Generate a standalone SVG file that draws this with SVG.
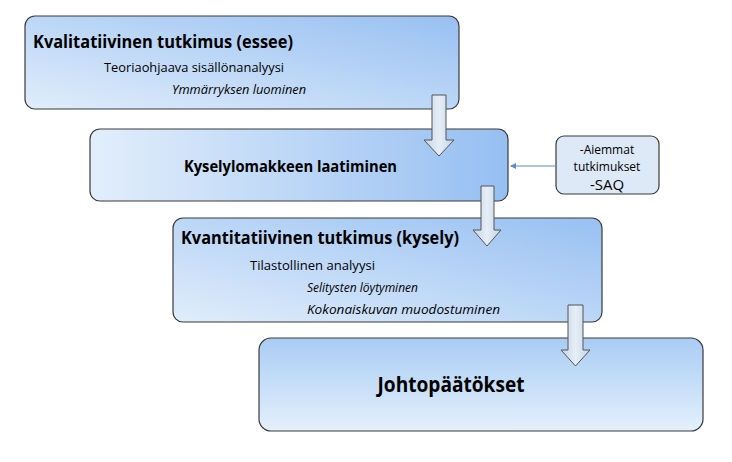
<svg xmlns="http://www.w3.org/2000/svg" width="732" height="462" viewBox="0 0 732 462">
<defs>
<linearGradient id="gd" x1="0" y1="1" x2="1" y2="0"><stop offset="0" stop-color="#e0edfb"/><stop offset="1" stop-color="#98c0f2"/></linearGradient>
<linearGradient id="gh" x1="0" y1="0" x2="1" y2="0"><stop offset="0" stop-color="#e2eefb"/><stop offset="1" stop-color="#96bff2"/></linearGradient>
<linearGradient id="gv" x1="0" y1="0" x2="0" y2="1"><stop offset="0" stop-color="#a9ccf4"/><stop offset="1" stop-color="#e4f0fc"/></linearGradient>
<linearGradient id="ga" x1="0" y1="0" x2="1" y2="0"><stop offset="0" stop-color="#c4d4e6"/><stop offset="0.5" stop-color="#e6eef7"/><stop offset="1" stop-color="#c4d4e6"/></linearGradient>
<marker id="m" markerWidth="6" markerHeight="6" refX="5" refY="3" orient="auto"><path d="M0,0 L6,3 L0,6 z" fill="#5b8fc0"/></marker>
</defs>
<style>
.b{stroke:#3a3a3a;stroke-width:1.2}
text{font-family:"Open Sans","Liberation Sans",sans-serif;fill:#000}
.t{font-weight:bold}
.i{font-style:italic}
.ar{fill:url(#ga);stroke:#555;stroke-width:1}
</style>
<rect width="732" height="462" fill="#fff"/>
<g id="n1"><rect class="b" x="25" y="16" width="434" height="93" rx="10" fill="url(#gd)"/>
<text class="t" x="33" y="48" font-size="17" textLength="260" lengthAdjust="spacingAndGlyphs">Kvalitatiivinen tutkimus (essee)</text>
<text x="104" y="72" font-size="12.5" textLength="180" lengthAdjust="spacingAndGlyphs">Teoriaohjaava sisällönanalyysi</text>
<text class="i" x="172" y="94" font-size="12" textLength="134" lengthAdjust="spacingAndGlyphs">Ymmärryksen luominen</text></g>
<g id="n2"><rect class="b" x="90" y="129" width="418" height="72" rx="10" fill="url(#gh)"/>
<text class="t" x="184" y="172" font-size="16" textLength="213" lengthAdjust="spacingAndGlyphs">Kyselylomakkeen laatiminen</text></g>
<g id="n5"><rect class="b" x="556" y="136" width="103" height="58" rx="8" fill="#dde9f7"/>
<text x="607" y="154" font-size="12" text-anchor="middle">-Aiemmat</text>
<text x="607" y="171" font-size="12" text-anchor="middle">tutkimukset</text>
<text x="607" y="190" font-size="15" text-anchor="middle">-SAQ</text></g>
<g id="n3"><rect class="b" x="173" y="218" width="429" height="104" rx="10" fill="url(#gd)"/>
<text class="t" x="181" y="244" font-size="17" textLength="278" lengthAdjust="spacingAndGlyphs">Kvantitatiivinen tutkimus (kysely)</text>
<text x="250" y="270" font-size="12.5" textLength="125" lengthAdjust="spacingAndGlyphs">Tilastollinen analyysi</text>
<text class="i" x="307" y="292" font-size="12" textLength="111" lengthAdjust="spacingAndGlyphs">Selitysten löytyminen</text>
<text class="i" x="307" y="314" font-size="12" textLength="193" lengthAdjust="spacingAndGlyphs">Kokonaiskuvan muodostuminen</text></g>
<g id="n4"><rect class="b" x="259" y="338" width="444" height="93" rx="12" fill="url(#gv)"/>
<text class="t" x="451" y="392" font-size="22" text-anchor="middle" textLength="147" lengthAdjust="spacingAndGlyphs">Johtopäätökset</text></g>
<g id="connectors">
<path class="ar" d="M432,95 H446 V140 H454 L439,156 L424,140 H432 Z"/>
<path class="ar" d="M481,186 H494 V230 H501 L487,246 L473,230 H481 Z"/>
<path class="ar" d="M568,305 H583 V350 H590 L575.5,366 L561,350 H568 Z"/>
<line x1="556" y1="166" x2="511" y2="166" stroke="#5b8fc0" stroke-width="1" marker-end="url(#m)"/>
</g>
</svg>
